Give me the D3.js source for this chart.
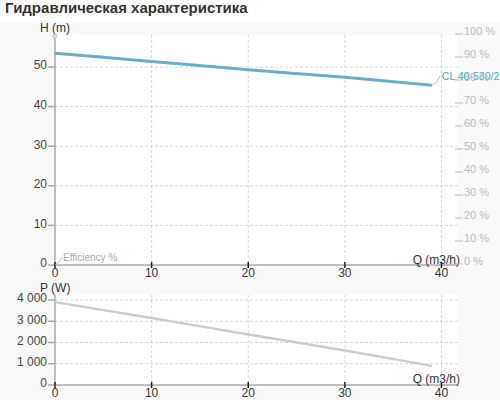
<!DOCTYPE html>
<html><head><meta charset="utf-8">
<script src="https://cdn.jsdelivr.net/npm/d3@7"></script>
<style>
body{margin:0;background:#f9f9f9;font-family:Arial,"Liberation Sans",sans-serif;}
svg{display:block;}
</style></head>
<body>
<svg id="c" width="500" height="400"></svg>
<script>
const title = "Гидравлическая характеристика";
const flowQ = [0, 10, 20, 30, 39];
const headH = [53.5, 51.4, 49.3, 47.4, 45.4];
const powerP = [3900, 3150, 2380, 1620, 900];
const xTicks = [0, 10, 20, 30, 40];
const hTicks = [0, 10, 20, 30, 40, 50];
const pTicks = [0, 1000, 2000, 3000, 4000];
const effTicks = [0, 10, 20, 30, 40, 50, 60, 70, 80, 90, 100];
const seriesName = "CL 40-530/2";

const svg = d3.select("#c");
const fmt = d3.formatLocale({decimal:",", thousands:"\u00a0", grouping:[3], currency:["",""]}).format(",d");

svg.append("rect").attr("width",500).attr("height",22).attr("fill","#fff");
svg.append("text").attr("x",5).attr("y",13).attr("font-size",15).attr("font-weight","bold")
  .attr("fill","#333").text(title);

const x = d3.scaleLinear().domain([0,40]).range([55,441.5]);
const plotRight = 458;

function panel(y, top, yTicks, labelFmt, yLabel, qLabelY) {
  const y0 = y.range()[0];
  svg.append("rect").attr("x",55).attr("y",top).attr("width",plotRight-55).attr("height",y0-top).attr("fill","#fff");
  svg.append("g").selectAll("line").data(yTicks.filter(d=>d>0)).join("line")
    .attr("x1",55).attr("x2",plotRight).attr("y1",d=>y(d)).attr("y2",d=>y(d))
    .attr("stroke","#ccc").attr("stroke-dasharray","3,2").attr("stroke-width",0.8);
  svg.append("g").selectAll("line").data(xTicks.filter(d=>d>0)).join("line")
    .attr("x1",d=>x(d)).attr("x2",d=>x(d)).attr("y1",top).attr("y2",y0)
    .attr("stroke","#ccc").attr("stroke-dasharray","3,2").attr("stroke-width",0.8);
  svg.append("line").attr("x1",55).attr("x2",55).attr("y1",top).attr("y2",y0).attr("stroke","#aaa").attr("stroke-width",1.5);
  svg.append("g").selectAll("line").data(yTicks).join("line")
    .attr("x1",48).attr("x2",55).attr("y1",d=>y(d)).attr("y2",d=>y(d)).attr("stroke","#aaa").attr("stroke-width",1.5);
  svg.append("g").selectAll("text").data(yTicks).join("text")
    .attr("x",47).attr("y",d=>y(d)).attr("dy","0.2em").attr("text-anchor","end").attr("font-size",12).attr("fill","#444")
    .text(labelFmt);
  svg.append("text").attr("x",40).attr("y",top-3).attr("font-size",12).attr("fill","#333").text(yLabel);
  svg.append("line").attr("x1",55).attr("x2",plotRight).attr("y1",y0).attr("y2",y0).attr("stroke","#aaa").attr("stroke-width",1.5);
  svg.append("g").selectAll("line").data(xTicks).join("line")
    .attr("x1",d=>x(d)).attr("x2",d=>x(d)).attr("y1",y0-3).attr("y2",y0+3).attr("stroke","#222").attr("stroke-width",1.5);
  svg.append("g").selectAll("text").data(xTicks).join("text")
    .attr("x",d=>x(d)).attr("y",y0+12).attr("text-anchor","middle").attr("font-size",12).attr("fill","#333")
    .text(d=>d);
  svg.append("text").attr("x",plotRight+2).attr("y",qLabelY).attr("text-anchor","end").attr("font-size",12).attr("fill","#333").text("Q (m3/h)");
}

// top panel
const yH = d3.scaleLinear().domain([0,50]).range([265,67]);
panel(yH, 35, hTicks, d=>d, "H (m)", 264);
svg.append("circle").attr("cx",55).attr("cy",36).attr("r",2).attr("fill","#cde").attr("stroke","#9bd").attr("stroke-width",0.5);

// H curve
const line = d3.line().curve(d3.curveMonotoneX);
svg.append("path").attr("d",line(flowQ.map((q,i)=>[x(q),yH(headH[i])])))
  .attr("fill","none").attr("stroke","#6aafca").attr("stroke-width",3);
const endX = x(flowQ[flowQ.length-1]), endY = yH(headH[headH.length-1]);
svg.append("path").attr("d",`M${endX},${endY} L${endX+5},${endY-3} L${endX+8},${endY-9}`)
  .attr("fill","none").attr("stroke","#aaa").attr("stroke-width",0.8);
svg.append("text").attr("x",endX+10).attr("y",endY-5).attr("font-size",10.5).attr("fill","#3ea5d8").text(seriesName);

// right efficiency axis
const yE = d3.scaleLinear().domain([0,100]).range([264,34]);
svg.append("g").selectAll("line").data(effTicks).join("line")
  .attr("x1",455).attr("x2",463).attr("y1",d=>yE(d)).attr("y2",d=>yE(d)).attr("stroke","#bbb");
svg.append("g").selectAll("text").data(effTicks).join("text")
  .attr("x",464).attr("y",d=>yE(d)+1).attr("font-size",11).attr("fill","#bbb").text(d=>d+" %");

// efficiency label
svg.append("path").attr("d",`M${x(0)},${yH(0)} L${x(0)+4},${yH(0)-3} L${x(0)+7},${yH(0)-8}`)
  .attr("fill","none").attr("stroke","#aaa").attr("stroke-width",0.8);
svg.append("text").attr("x",x(0)+8).attr("y",yH(0)-4).attr("font-size",10).attr("fill","#aaa").text("Efficiency %");

// bottom panel
const yP = d3.scaleLinear().domain([0,4000]).range([385,300]);
panel(yP, 295, pTicks, d=>fmt(d), "P (W)", 383);
svg.append("path").attr("d",line(flowQ.map((q,i)=>[x(q),yP(powerP[i])])))
  .attr("fill","none").attr("stroke","#ccc").attr("stroke-width",2.5);
</script>
</body></html>
